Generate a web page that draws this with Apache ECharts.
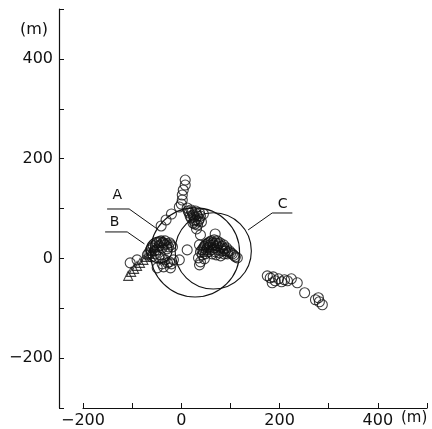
<!DOCTYPE html>
<html>
<head>
<meta charset="utf-8">
<script src="https://cdn.jsdelivr.net/npm/echarts@6/dist/echarts.min.js"></script>
<style>
  html, body { margin: 0; padding: 0; background: #fff; }
  #chart { width: 432px; height: 429px; }
</style>
</head>
<body>
<div id="chart"></div>
<script>
// observed positions (m), circles
var circlePts = [
    // upper string
    [8, 157], [8, 147], [4, 137], [2, 127], [2, 117], [0, 109], [-4, 103],
    // arc toward B
    [-20, 89], [-31, 77], [-41, 65],
    // upper blob
    [12, 101], [20, 97], [29, 95], [37, 91], [45, 89], [16, 91], [24, 87], [33, 85],
    [20, 81], [29, 77], [37, 79], [24, 71], [33, 67], [41, 73], [31, 59],
    [14, 95], [22, 93], [26, 83], [31, 89], [35, 75], [28, 69], [18, 85], [39, 85], [26, 75],
    // C blob
    [39, 13], [45, 21], [49, 27], [55, 31], [61, 35], [67, 37], [73, 35], [79, 31],
    [86, 27], [92, 21], [98, 15], [104, 9], [110, 3], [57, 23], [65, 27], [73, 25],
    [81, 21], [90, 15], [43, 7], [47, -1], [39, -7], [35, 1], [51, 17], [61, 17],
    [69, 13], [77, 11], [37, 27], [39, 47], [69, 49], [94, 9], [114, 1], [37, -13], [12, 17],
    [42, 17], [47, 24], [52, 29], [58, 33], [64, 31], [70, 31], [76, 29], [83, 24],
    [88, 19], [95, 13], [101, 11], [107, 6], [53, 21], [59, 27], [67, 21], [75, 17],
    [84, 15], [45, 13], [49, 9], [55, 13], [63, 9], [71, 7], [80, 5], [87, 9],
    // B blob
    [-69, 7], [-63, 17], [-57, 25], [-49, 31], [-41, 35], [-33, 35], [-24, 31], [-18, 23],
    [-49, 17], [-39, 21], [-29, 19], [-43, 7], [-33, -3], [-24, -7], [-16, -3], [-39, -11],
    [-49, -19], [-22, -19], [-4, -3], [-104, -9], [-90, -3],
    [-66, 11], [-60, 21], [-53, 27], [-45, 33], [-37, 31], [-29, 29], [-21, 27], [-55, 15],
    [-45, 25], [-35, 27], [-26, 23], [-46, 3], [-38, -1], [-28, -9], [-36, -17], [-20, -11],
    [-60, 3], [-52, 9],
    // right group
    [175, -35], [181, -39], [187, -37], [191, -45], [198, -41], [204, -47], [210, -43],
    [216, -45], [224, -41], [236, -49], [251, -69], [273, -83], [281, -87], [287, -93],
    [279, -79], [185, -49]
];

// triangles
var trianglePts = [
    [-108, -35], [-102, -27], [-96, -21], [-90, -15], [-84, -9], [-77, -3],
    [-71, 3], [-65, 9], [-59, 15], [-53, 23], [-45, 31], [-37, 35]
];

// range circles: [centre x, centre y, radius]
var rangeCircles = [
    [28, 12, 90],   // A
    [-45, 17, 26],  // B
    [65, 15, 77]    // C
];

// leader lines and labels
var leaderA = [[-151, 99], [-106, 99], [-49, 59]];
var leaderB = [[-155, 53], [-110, 53], [-75, 29]];
var leaderC = [[226, 91], [185, 91], [136, 57]];
var labelPts = [[-130, 127, 'A'], [-136, 73, 'B'], [206, 109, 'C']];

var xTicks = [-200, 0, 200, 400];
var yTicks = [400, 200, 0, -200];

function fmt(list) {
    return function (v) {
        return list.indexOf(v) >= 0 ? String(v).replace('-', '\u2212') : '';
    };
}

var chart = echarts.init(document.getElementById('chart'));

var font = 'DejaVu Sans';
var ink = '#111';

var markerStyle = {color: 'transparent', borderColor: ink, borderWidth: 1.1};

function leader(data) {
    return {
        type: 'line', xAxisIndex: 0, yAxisIndex: 0, data: data,
        symbol: 'none', silent: true,
        lineStyle: {color: ink, width: 1}
    };
}

chart.setOption({
    animation: false,
    backgroundColor: '#fff',
    grid: [
        {left: 83, right: 5, top: 9, bottom: 21},
        {left: 59, width: 2, top: 9, bottom: 21}
    ],
    xAxis: [
        {
            gridIndex: 0, type: 'value', min: -200, max: 500, interval: 100,
            splitLine: {show: false},
            axisLine: {onZero: false, lineStyle: {color: ink, width: 1.2}},
            axisTick: {inside: true, length: 5, lineStyle: {color: ink}},
            axisLabel: {formatter: fmt(xTicks), color: ink, fontFamily: font, fontSize: 16, margin: 5}
        },
        {gridIndex: 1, type: 'value', min: 0, max: 1, show: false}
    ],
    yAxis: [
        {gridIndex: 0, type: 'value', min: -300, max: 500, show: false},
        {
            gridIndex: 1, type: 'value', min: -300, max: 500, interval: 100,
            splitLine: {show: false},
            axisLine: {onZero: false, lineStyle: {color: ink, width: 1.2}},
            axisTick: {inside: true, length: 5, lineStyle: {color: ink}},
            axisLabel: {formatter: fmt(yTicks), color: ink, fontFamily: font, fontSize: 16, margin: 6}
        }
    ],
    graphic: [
        {type: 'text', left: 20, top: 22, style: {text: '(m)', font: '16px "DejaVu Sans"', fill: ink}},
        {type: 'text', left: 401, top: 411, style: {text: '(m)', font: '15px "DejaVu Sans"', fill: ink}}
    ],
    series: [
        {
            type: 'custom', xAxisIndex: 0, yAxisIndex: 0, silent: true,
            data: rangeCircles,
            renderItem: function (params, api) {
                var c = api.coord([api.value(0), api.value(1)]);
                var s = api.size([api.value(2), api.value(2)]);
                return {
                    type: 'circle',
                    shape: {cx: c[0], cy: c[1], r: (s[0] + s[1]) / 2},
                    style: {fill: 'none', stroke: ink, lineWidth: 1.1}
                };
            }
        },
        leader(leaderA), leader(leaderB), leader(leaderC),
        {
            type: 'custom', xAxisIndex: 0, yAxisIndex: 0, silent: true,
            data: labelPts,
            renderItem: function (params, api) {
                var c = api.coord([api.value(0), api.value(1)]);
                return {
                    type: 'text',
                    style: {
                        x: c[0], y: c[1], text: labelPts[params.dataIndex][2],
                        font: '14px "DejaVu Sans"', fill: ink,
                        align: 'center', verticalAlign: 'middle'
                    }
                };
            }
        },
        {
            type: 'scatter', xAxisIndex: 0, yAxisIndex: 0, data: circlePts,
            symbol: 'circle', symbolSize: 10, itemStyle: markerStyle
        },
        {
            type: 'scatter', xAxisIndex: 0, yAxisIndex: 0, data: trianglePts,
            symbol: 'triangle', symbolSize: 9, itemStyle: markerStyle
        }
    ]
});
</script>
</body>
</html>
